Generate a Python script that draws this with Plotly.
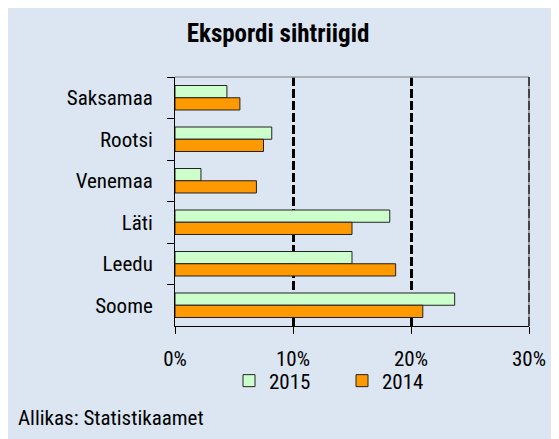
import plotly.graph_objects as go

categories = ["Saksamaa", "Rootsi", "Venemaa", "Läti", "Leedu", "Soome"]
values_2015 = [4.4, 8.2, 2.2, 18.2, 15.0, 23.7]
values_2014 = [5.5, 7.5, 6.9, 15.0, 18.7, 21.0]
x_ticks = [0, 10, 20, 30]
x_tick_labels = ["0%", "10%", "20%", "30%"]

W, H = 559, 439
ml, mt = 167, 69
pw, ph = 354, 249
mr = W - ml - pw
mb = H - mt - ph
bottom = mt + ph

FONT = "Roboto Condensed, Liberation Sans Narrow, Roboto, sans-serif"
BG = "#DCE6F2"
FS = 21

fig = go.Figure()
fig.add_trace(go.Bar(y=categories, x=values_2015, orientation="h", name="2015",
                     marker=dict(color="#CCFFCC", line=dict(color="#222222", width=1))))
fig.add_trace(go.Bar(y=categories, x=values_2014, orientation="h", name="2014",
                     marker=dict(color="#FF9900", line=dict(color="#222222", width=1))))

fig.update_layout(
    width=W, height=H,
    margin=dict(l=ml, r=mr, t=mt, b=mb, autoexpand=False),
    paper_bgcolor=BG, plot_bgcolor=BG,
    font=dict(family=FONT, size=FS, color="#000000"),
    barmode="group", bargap=0.41, bargroupgap=0.0,
    title=dict(text="<b>Ekspordi sihtriigid</b>", x=(270) / W, xanchor="center",
               y=1 - 25 / H, yanchor="middle", font=dict(size=25, family=FONT)),
    legend=dict(orientation="h", x=(221 - ml) / pw, xanchor="left",
                y=-(373 - bottom) / ph, yanchor="middle",
                bgcolor="rgba(0,0,0,0)", font=dict(size=FS),
                itemwidth=30, entrywidth=68, tracegroupgap=0),
    showlegend=True,
)
fig.update_xaxes(range=[0, 30], tickvals=x_ticks, ticktext=x_tick_labels,
                 showgrid=True, gridcolor="#000000", griddash="9px,3px", gridwidth=2.5,
                 zeroline=False, showline=True, linecolor="#000000", linewidth=1,
                 ticks="outside", ticklen=7, tickcolor="#000000",
                 ticklabelstandoff=7, tickfont=dict(size=FS))
fig.update_yaxes(categoryorder="array", categoryarray=categories, autorange="reversed",
                 showgrid=False, zeroline=False, showline=True, linecolor="#000000",
                 linewidth=1, ticks="outside", ticklen=7, tickcolor="#000000",
                 tickson="boundaries", ticklabelstandoff=17, tickfont=dict(size=FS))
fig.add_shape(type="line", xref="paper", yref="paper", x0=0, x1=1, y0=1, y1=1,
              line=dict(color="#A0A0A0", width=1.5))
fig.add_shape(type="line", xref="paper", yref="paper", x0=1, x1=1, y0=0, y1=1,
              line=dict(color="#A0A0A0", width=2))
fig.add_shape(type="line", xref="paper", yref="paper", x0=1, x1=1, y0=0, y1=1,
              line=dict(color="#444444", width=2, dash="9px,3px"))
fig.add_annotation(text="Allikas: Statistikaamet", xref="paper", yref="paper",
                   x=(8 - ml) / pw, y=-(410 - bottom) / ph, xanchor="left",
                   yanchor="middle", showarrow=False, font=dict(size=FS))

fig.write_html("out.html")
